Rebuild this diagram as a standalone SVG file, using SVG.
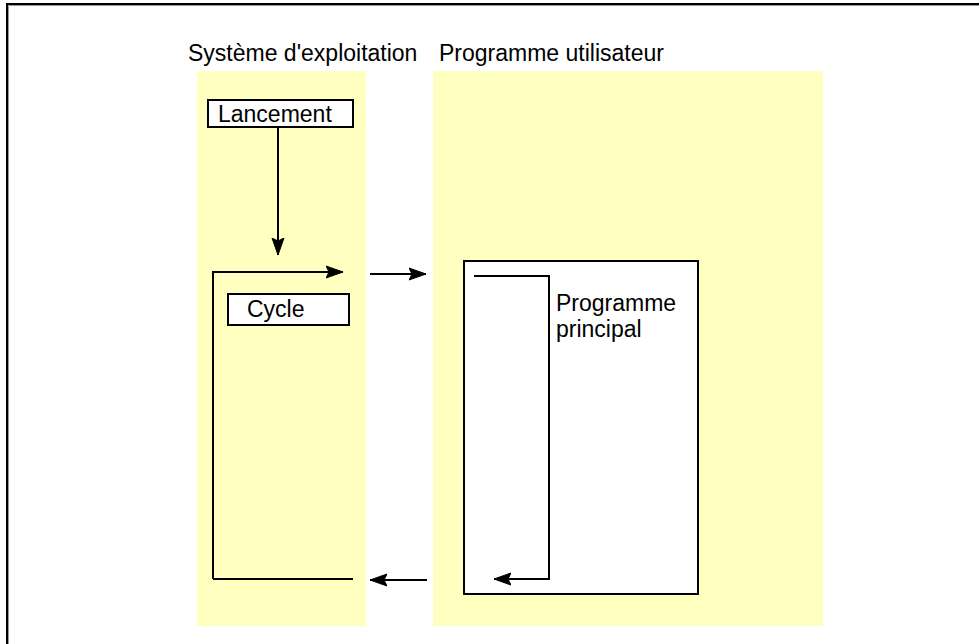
<svg xmlns="http://www.w3.org/2000/svg" width="979" height="644" viewBox="0 0 979 644">
<defs>
<marker id="ah" markerUnits="userSpaceOnUse" markerWidth="20" markerHeight="16" refX="17" refY="8" orient="auto">
<path d="M0,2 L17,8 L0,14 L3,8 Z" fill="#000" stroke="#000" stroke-width="1"/>
</marker>
</defs>
<style>
text{font-family:"Liberation Sans",Arial,sans-serif;font-size:23px;fill:#000}
.col{fill:#FFFFC0}
.box{fill:#fff;stroke:#000;stroke-width:2}
.ln{fill:none;stroke:#000;stroke-width:2}
</style>
<rect width="979" height="644" fill="#fff"/>
<g id="frame">
<path d="M7,644 V4 H979" fill="none" stroke="#000" stroke-width="2"/>
<path d="M8.5,644 V5.5 H979" fill="none" stroke="#999" stroke-width="1"/>
</g>
<g id="os">
<rect class="col" x="197" y="71" width="169" height="555"/>
<text x="188" y="61">Système d'exploitation</text>
</g>
<g id="user">
<rect class="col" x="433" y="71" width="390" height="555"/>
<text x="439" y="61">Programme utilisateur</text>
</g>
<g id="lancement">
<rect class="box" x="208" y="100" width="145" height="27"/>
<text x="218" y="122">Lancement</text>
</g>
<g id="cycle">
<rect class="box" x="228" y="294" width="121" height="31"/>
<text x="247" y="317">Cycle</text>
</g>
<g id="principal">
<rect class="box" x="464" y="261" width="234" height="333"/>
<text x="556" y="311">Programme</text>
<text x="556" y="337">principal</text>
</g>
<g id="connectors">
<line class="ln" x1="278" y1="128" x2="278" y2="255" marker-end="url(#ah)"/>
<polyline class="ln" points="213,579 213,272 343,272" marker-end="url(#ah)"/>
<line class="ln" x1="370" y1="274" x2="426" y2="274" marker-end="url(#ah)"/>
<polyline class="ln" points="474,276 549,276 549,579 494,579" marker-end="url(#ah)"/>
<line class="ln" x1="427" y1="580" x2="370" y2="580" marker-end="url(#ah)"/>
<line class="ln" x1="213" y1="579" x2="353" y2="579"/>
</g>
</svg>
